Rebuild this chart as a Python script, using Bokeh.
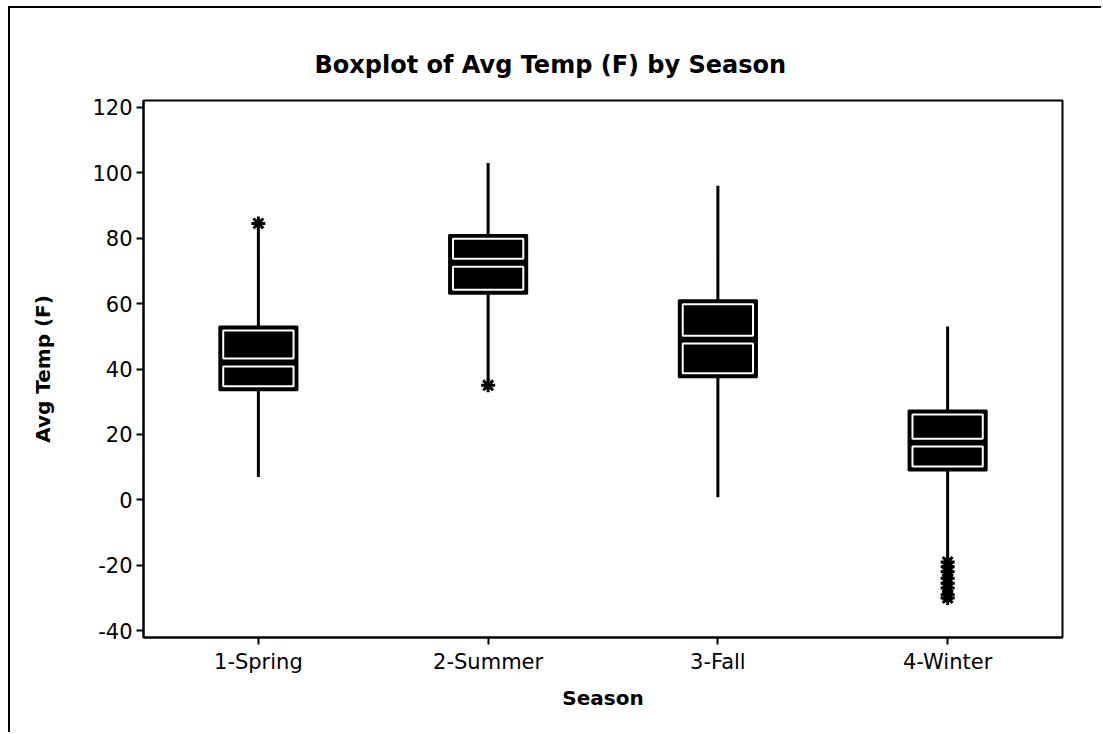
from bokeh.plotting import figure
from bokeh.models import Range1d, FixedTicker, ColumnDataSource
from bokeh.embed import file_html
from bokeh.resources import INLINE

# ---- data ----
seasons = ["1-Spring", "2-Summer", "3-Fall", "4-Winter"]
q1 = [33.5, 63.0, 37.5, 9.0]
median = [42.0, 72.5, 49.0, 17.5]
q3 = [53.0, 81.0, 61.0, 27.3]
whisker_low = [7.0, 36.5, 0.8, -17.6]
whisker_high = [83.0, 103.0, 96.0, 53.0]
outlier_season = ["1-Spring", "2-Summer", "4-Winter", "4-Winter", "4-Winter",
                  "4-Winter", "4-Winter", "4-Winter", "4-Winter", "4-Winter"]
outlier_value = [84.5, 35.0, -19.0, -20.5, -22.0, -24.0, -25.5, -27.0, -29.0, -30.0]
y_ticks = [-40, -20, 0, 20, 40, 60, 80, 100, 120]

pos = [i + 1 for i in range(len(seasons))]
half_w = 0.17
dx = 0.017   # inset of the white inner outline (x, data units)
dy = 1.2     # inset of the white inner outline (y, data units)

src = ColumnDataSource(dict(
    x=pos, q1=q1, med=median, q3=q3, lo=whisker_low, hi=whisker_high,
    left=[p - half_w for p in pos], right=[p + half_w for p in pos],
    ileft=[p - half_w + dx for p in pos], iright=[p + half_w - dx for p in pos],
    up_bot=[m + dy for m in median], up_top=[t - dy for t in q3],
    lo_bot=[b + dy for b in q1], lo_top=[m - dy for m in median],
))
osrc = ColumnDataSource(dict(
    x=[seasons.index(s) + 1 for s in outlier_season], y=outlier_value))

FONT = "DejaVu Sans"

p = figure(width=1093, height=726, output_backend="svg", toolbar_location=None,
           x_range=Range1d(0.5, 4.5), y_range=Range1d(-42.1, 122.1),
           min_border_left=133, min_border_right=41, min_border_top=92,
           min_border_bottom=97)
p.styles = {"margin-left": "8px", "margin-top": "6px",
            "border-left": "2px solid black", "border-top": "2px solid black"}

p.title.text = "Boxplot of Avg Temp (F) by Season"
p.title.text_font = FONT
p.title.text_font_size = "24px"
p.title.text_font_style = "bold"
p.title.text_color = "black"
p.title.align = "left"
p.title.offset = 171
p.title.standoff = 44

p.grid.visible = False
p.outline_line_color = "black"
p.outline_line_width = 2
p.background_fill_color = "white"
p.border_fill_color = "white"

# whiskers
p.segment(x0="x", y0="q3", x1="x", y1="hi", source=src, line_color="black", line_width=3)
p.segment(x0="x", y0="q1", x1="x", y1="lo", source=src, line_color="black", line_width=3)
# box
p.quad(left="left", right="right", bottom="q1", top="q3", source=src,
       fill_color="black", line_color="black", line_width=2)
p.quad(left="ileft", right="iright", bottom="up_bot", top="up_top", source=src,
       fill_color=None, line_color="white", line_width=2)
p.quad(left="ileft", right="iright", bottom="lo_bot", top="lo_top", source=src,
       fill_color=None, line_color="white", line_width=2)
# outliers
p.scatter(x="x", y="y", source=osrc, marker="asterisk", size=14,
          line_color="black", line_width=3)

# axes
p.xaxis.ticker = FixedTicker(ticks=pos)
p.xaxis.major_label_overrides = {pp: s for pp, s in zip(pos, seasons)}
p.yaxis.ticker = FixedTicker(ticks=y_ticks)
p.yaxis.major_label_overrides = {t: str(t) for t in y_ticks}
for ax in (p.xaxis, p.yaxis):
    ax.axis_line_color = "black"
    ax.axis_line_width = 2
    ax.major_tick_line_color = "black"
    ax.major_tick_line_width = 2
    ax.major_tick_in = 0
    ax.major_tick_out = 7
    ax.minor_tick_line_color = None
    ax.major_label_text_font = FONT
    ax.major_label_text_font_size = "21px"
    ax.major_label_text_color = "black"
    ax.axis_label_text_font = FONT
    ax.axis_label_text_font_size = "20px"
    ax.axis_label_text_font_style = "bold"
    ax.axis_label_text_color = "black"

p.xaxis.axis_label = "Season"
p.yaxis.axis_label = "Avg Temp (F)"
p.xaxis.major_label_standoff = 5
p.xaxis.axis_label_standoff = 9
p.yaxis.major_label_standoff = 4
p.yaxis.axis_label_standoff = 34

open("out.html", "w").write(file_html(p, INLINE))
